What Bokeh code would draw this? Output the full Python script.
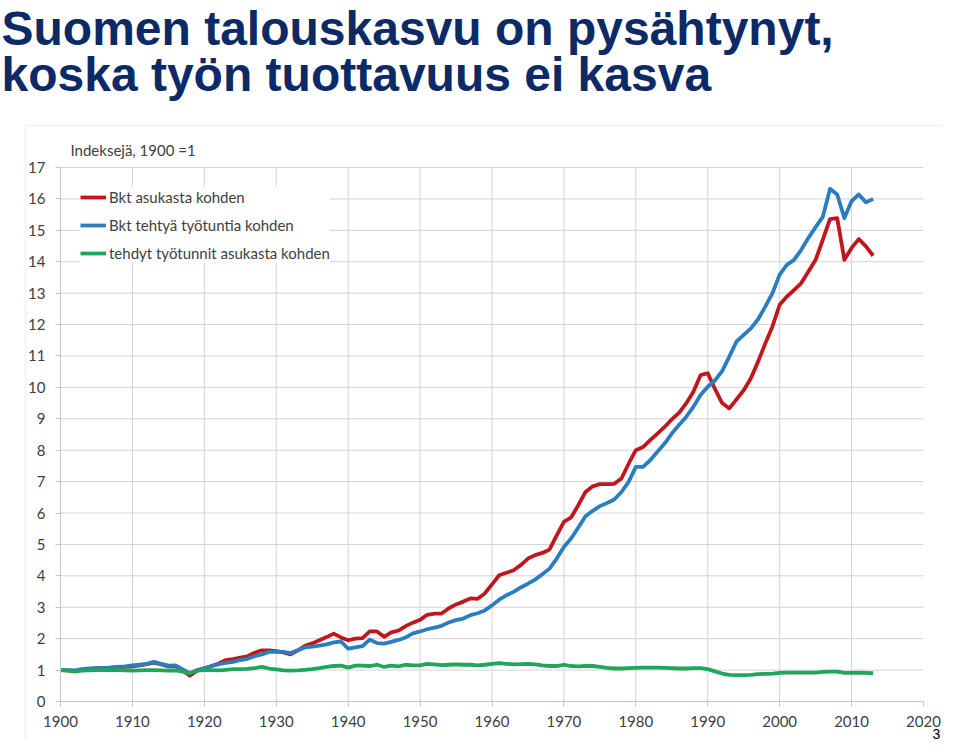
from bokeh.plotting import figure
from bokeh.models import (Range1d, FixedTicker, Legend, LegendItem, Label, BoxAnnotation)
from bokeh.embed import file_html
from bokeh.resources import INLINE

years = list(range(1900, 2014))

bkt_asukas = [
    1.00, 0.99, 0.96, 1.01, 1.03, 1.05, 1.06, 1.08, 1.09, 1.10,
    1.12, 1.15, 1.19, 1.24, 1.18, 1.12, 1.13, 0.98, 0.82, 0.98,
    1.06, 1.13, 1.21, 1.32, 1.35, 1.40, 1.44, 1.55, 1.63, 1.63,
    1.60, 1.56, 1.50, 1.63, 1.77, 1.85, 1.95, 2.05, 2.16, 2.04,
    1.95, 2.00, 2.02, 2.23, 2.23, 2.06, 2.20, 2.26, 2.40, 2.51,
    2.60, 2.76, 2.80, 2.80, 2.97, 3.09, 3.18, 3.28, 3.27, 3.44,
    3.73, 4.02, 4.10, 4.18, 4.34, 4.55, 4.66, 4.73, 4.84, 5.29,
    5.72, 5.86, 6.25, 6.67, 6.85, 6.92, 6.92, 6.93, 7.10, 7.57,
    8.00, 8.10, 8.32, 8.53, 8.74, 8.98, 9.19, 9.49, 9.86, 10.39,
    10.45, 9.95, 9.50, 9.33, 9.62, 9.91, 10.29, 10.82, 11.40, 11.94,
    12.63, 12.89, 13.10, 13.32, 13.69, 14.06, 14.70, 15.36, 15.39, 14.06,
    14.44, 14.72, 14.49, 14.19,
]

bkt_tunti = [
    1.00, 1.00, 0.99, 1.03, 1.05, 1.06, 1.07, 1.08, 1.10, 1.12,
    1.15, 1.17, 1.20, 1.26, 1.20, 1.14, 1.15, 1.02, 0.90, 1.00,
    1.06, 1.13, 1.19, 1.23, 1.26, 1.32, 1.36, 1.44, 1.50, 1.58,
    1.59, 1.58, 1.54, 1.63, 1.72, 1.75, 1.78, 1.82, 1.88, 1.91,
    1.68, 1.72, 1.76, 1.97, 1.86, 1.84, 1.90, 1.96, 2.04, 2.17,
    2.23, 2.30, 2.35, 2.41, 2.52, 2.59, 2.64, 2.75, 2.81, 2.90,
    3.06, 3.24, 3.38, 3.49, 3.63, 3.75, 3.88, 4.05, 4.23, 4.55,
    4.92, 5.19, 5.54, 5.90, 6.07, 6.22, 6.32, 6.43, 6.67, 6.99,
    7.47, 7.47, 7.68, 7.95, 8.21, 8.53, 8.80, 9.06, 9.38, 9.76,
    10.02, 10.22, 10.52, 10.98, 11.46, 11.67, 11.88, 12.17, 12.57, 13.00,
    13.59, 13.90, 14.06, 14.38, 14.76, 15.10, 15.43, 16.32, 16.14, 15.39,
    15.93, 16.14, 15.89, 16.00,
]

tunnit_asukas = [
    1.00, 0.98, 0.96, 0.98, 0.99, 1.00, 1.00, 1.01, 1.00, 0.99,
    0.98, 0.99, 1.00, 1.00, 0.99, 0.98, 0.99, 0.95, 0.90, 0.98,
    1.00, 1.00, 0.99, 1.01, 1.03, 1.03, 1.04, 1.06, 1.10, 1.05,
    1.02, 0.99, 0.98, 0.99, 1.01, 1.03, 1.06, 1.10, 1.13, 1.14,
    1.08, 1.14, 1.14, 1.13, 1.17, 1.10, 1.14, 1.12, 1.17, 1.15,
    1.15, 1.20, 1.18, 1.16, 1.17, 1.18, 1.17, 1.17, 1.15, 1.17,
    1.20, 1.22, 1.20, 1.18, 1.19, 1.20, 1.18, 1.15, 1.13, 1.13,
    1.17, 1.13, 1.12, 1.13, 1.13, 1.10, 1.07, 1.05, 1.05, 1.06,
    1.07, 1.08, 1.08, 1.08, 1.07, 1.06, 1.05, 1.05, 1.06, 1.06,
    1.03, 0.96, 0.89, 0.85, 0.84, 0.84, 0.85, 0.87, 0.88, 0.89,
    0.91, 0.92, 0.92, 0.92, 0.92, 0.92, 0.94, 0.95, 0.95, 0.91,
    0.91, 0.92, 0.91, 0.90,
]

series_names = ["Bkt asukasta kohden", "Bkt tehtyä työtuntia kohden",
                "tehdyt työtunnit asukasta kohden"]
x_ticks = [1900, 1910, 1920, 1930, 1940, 1950, 1960, 1970, 1980, 1990, 2000, 2010, 2020]
y_ticks = list(range(0, 18))

title_1 = "Suomen talouskasvu on pysähtynyt,"
title_2 = "koska työn tuottavuus ei kasva"
index_note = "Indeksejä, 1900 =1"
page_no = "3"

TXT = "#404040"
GRID = "#d3d3d3"
FONT = "Lato"

# canvas geometry: the frame covers the whole canvas; the chart area sits inside it
W, H = 943, 740
X0_PX, X1_PX = 60.0, 923.0      # pixel columns of 1900 and 2020
Y0_PX, Y17_PX = 701.0, 167.0    # pixel rows of 0 and 17
px_per_year = (X1_PX - X0_PX) / 120.0
px_per_unit = (Y0_PX - Y17_PX) / 17.0
x_lo = 1900 - X0_PX / px_per_year
x_hi = 1900 + (W - X0_PX) / px_per_year
y_lo = -(H - Y0_PX) / px_per_unit
y_hi = Y0_PX / px_per_unit

p = figure(width=W, height=H, output_backend="svg", toolbar_location=None,
           x_range=Range1d(x_lo, x_hi), y_range=Range1d(y_lo, y_hi),
           min_border_left=0, min_border_right=0, min_border_top=0,
           min_border_bottom=0)
p.outline_line_color = None
p.background_fill_color = "white"
p.border_fill_color = "white"
p.xgrid.visible = False
p.ygrid.visible = False

# chart-image border (light frame around the pasted chart)
p.add_layout(BoxAnnotation(left=25, right=W + 5, top=H - 125, bottom=-5,
                           left_units="screen", right_units="screen",
                           top_units="screen", bottom_units="screen",
                           fill_color=None, line_color="#d2d2d2", line_width=1.5,
                           level="underlay"))

# gridlines
grid_years = x_ticks[1:-1]
grid_vals = y_ticks[1:]
p.segment(x0=grid_years, y0=[0] * len(grid_years), x1=grid_years, y1=[17] * len(grid_years),
          line_color=GRID, line_width=1)
p.segment(x0=[1900] * len(grid_vals), y0=grid_vals, x1=[2020] * len(grid_vals), y1=grid_vals,
          line_color=GRID, line_width=1)

p.xaxis.fixed_location = 0
p.yaxis.fixed_location = 1900
p.xaxis.bounds = (1900, 2020)
p.yaxis.bounds = (0, 17)
p.xaxis.ticker = FixedTicker(ticks=x_ticks)
p.yaxis.ticker = FixedTicker(ticks=y_ticks)
for ax in (p.xaxis, p.yaxis):
    ax.axis_line_color = "#c4c4c4"
    ax.major_tick_line_color = "#c4c4c4"
    ax.major_tick_out = 5
    ax.major_tick_in = 0
    ax.minor_tick_line_color = None
    ax.major_label_text_font = FONT
    ax.major_label_text_font_size = "15px"
    ax.major_label_text_color = TXT
p.xaxis.major_label_standoff = 9
p.yaxis.major_label_standoff = 10

r1 = p.line(years, bkt_asukas, line_color="#c0171e", line_width=3.8, line_join="round")
r2 = p.line(years, bkt_tunti, line_color="#2b7dc1", line_width=3.8, line_join="round")
r3 = p.line(years, tunnit_asukas, line_color="#1fa65a", line_width=3.8, line_join="round")

legend = Legend(items=[LegendItem(label=series_names[0], renderers=[r1]),
                       LegendItem(label=series_names[1], renderers=[r2]),
                       LegendItem(label=series_names[2], renderers=[r3])],
                location=(80, 477), padding=5, margin=0, spacing=8,
                glyph_width=26, glyph_height=20, label_height=20, label_standoff=3,
                label_text_font=FONT, label_text_font_size="15px",
                label_text_color=TXT, background_fill_color="white",
                background_fill_alpha=1.0, border_line_color=None)
p.add_layout(legend)

p.add_layout(Label(x=70, y=H - 149, x_units="screen", y_units="screen", text=index_note,
                   text_font=FONT, text_font_size="15px", text_color=TXT,
                   text_baseline="middle"))

for txt, base in ((title_1, 44), (title_2, 90)):
    p.add_layout(Label(x=1, y=H - base + 16, x_units="screen", y_units="screen", text=txt,
                       text_font="Liberation Sans", text_font_style="bold",
                       text_font_size="48px", text_color="#0b2a66",
                       text_baseline="alphabetic"))

p.add_layout(Label(x=936, y=2, x_units="screen", y_units="screen", text=page_no,
                   text_font="Liberation Sans", text_font_size="14px",
                   text_color="black", text_baseline="bottom", text_align="center"))

open("out.html", "w").write(file_html(p, INLINE))
